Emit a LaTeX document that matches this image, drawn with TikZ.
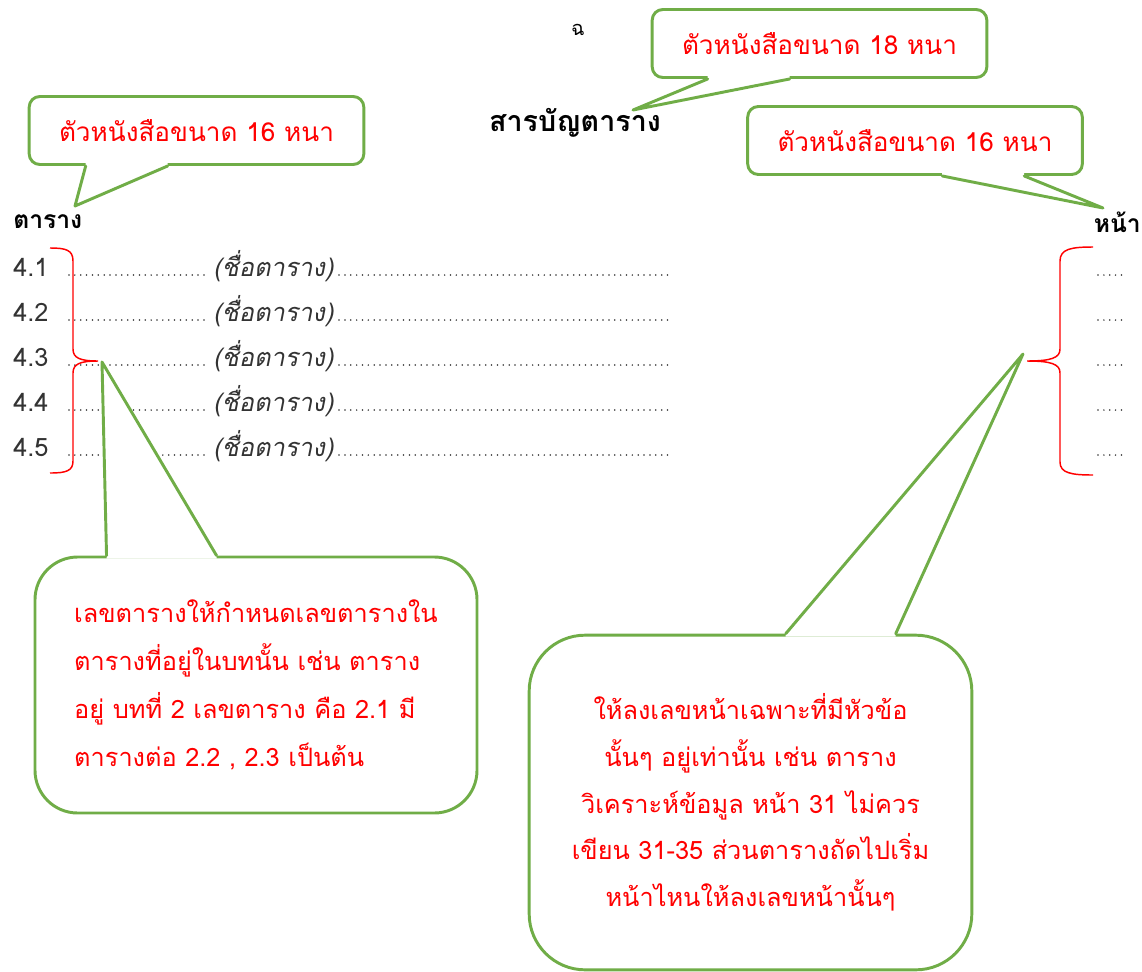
\documentclass[tikz,border=0pt]{standalone}
\usepackage{fontspec}
\setmainfont[Script=Thai]{Loma}
\newfontfamily\slantthai[Script=Thai,FakeSlant=0.2]{Loma}
\usetikzlibrary{calc}

\definecolor{calloutGreen}{RGB}{112,173,71}
\definecolor{noteRed}{RGB}{255,0,0}

\begin{document}
\begin{tikzpicture}[x=0.75pt,y=-0.75pt,
        smallCallout/.style = {draw=calloutGreen,line width=2.2pt,fill=white,rounded corners=8pt,text=noteRed,font=\fontsize{19.6}{22}\selectfont,minimum width=251pt,minimum height=51pt,inner sep=0pt},
        bigCallout/.style = {draw=calloutGreen,line width=2.2pt,fill=white,text=noteRed,inner sep=0pt},
        tailLine/.style = {draw=calloutGreen,line width=2.2pt,line join=round,line cap=round},
        headText/.style = {font=\bfseries\fontsize{18.5}{22}\selectfont,inner sep=0pt},
        rowText/.style = {font=\fontsize{19}{22}\selectfont,text=black!80,inner sep=0pt,anchor=base west},
        leader/.style = {draw=black!80,line width=1.3pt,line cap=round,dash pattern=on 0pt off 4.4pt},
        braceLine/.style = {draw=noteRed,line width=1.1pt}
        ]
        \path[use as bounding box] (0,0) rectangle (1142,971);

        % page letter, title and column heads
        \node[font=\fontsize{15}{18}\selectfont,inner sep=0pt] (pageNo) at (578,30) {ฉ};
        \node[headText,font=\bfseries\fontsize{21.5}{24}\selectfont] (title) at (575,123) {สารบัญตาราง};
        \node[headText,anchor=west] (tableHead) at (13,222) {ตาราง};
        \node[headText,anchor=east] (pageHead) at (1141,222) {หน้า};

        % rows
        \foreach \i/\y in {1/276,2/321,3/366,4/411,5/456}{
            \node[rowText] (num\i) at (13,\y) {4.\i};
            \node[rowText] (name\i) at (213,\y) {\slantthai(ชื่อตาราง)};
            \coordinate (lead\i) at (69,\y-1);
            \coordinate (end\i) at (668,\y-1);
            \coordinate (pg\i) at (1098,\y-1);
            \coordinate (pgEnd\i) at (1126,\y-1);
            \draw[leader] (lead\i) -- ([xshift=-4pt,yshift=0.75pt]name\i.base west);
            \draw[leader] ([xshift=4pt,yshift=0.75pt]name\i.base east) -- (end\i);
            \draw[leader] (pg\i) -- (pgEnd\i);
        }

        % braces
        \coordinate (braceLTop) at (50,248);
        \coordinate (braceLTip) at (98,361);
        \coordinate (braceLBot) at (50,473);
        \coordinate (braceRTop) at (1093,247);
        \coordinate (braceRTip) at (1027,361);
        \coordinate (braceRBot) at (1093,475);
        \draw[braceLine] (braceLTop) .. controls (66,248) and (73,250) .. (73,261) -- (73,349)
            .. controls (73,358) and (80,361) .. (braceLTip)
            .. controls (80,361) and (73,364) .. (73,373) -- (73,461)
            .. controls (73,471) and (66,473) .. (braceLBot);
        \draw[braceLine] (braceRTop) .. controls (1071,247) and (1060,249) .. (1060,261) -- (1060,349)
            .. controls (1060,358) and (1051,361) .. (braceRTip)
            .. controls (1051,361) and (1060,364) .. (1060,373) -- (1060,462)
            .. controls (1060,473) and (1071,475) .. (braceRBot);

        % callouts
        \node[smallCallout] (cap18) at (819.5,43.5) {ตัวหนังสือขนาด 18 หนา};
        \node[smallCallout] (capLeft) at (196.5,130.5) {ตัวหนังสือขนาด 16 หนา};
        \node[smallCallout] (capRight) at (915,140.5) {ตัวหนังสือขนาด 16 หนา};
        \node[bigCallout,rounded corners=32pt,minimum width=331.5pt,minimum height=192pt,align=left,
              font=\fontsize{19}{36}\selectfont] (noteLeft) at (256,685)
              {เลขตารางให้กำหนดเลขตารางใน\\ตารางที่อยู่ในบทนั้น เช่น ตาราง\\อยู่ บทที่ 2 เลขตาราง คือ 2.1 มี\\ตารางต่อ 2.2 , 2.3 เป็นต้น};
        \node[bigCallout,rounded corners=42pt,minimum width=332pt,minimum height=251pt,align=center,
              font=\fontsize{19}{35}\selectfont] (noteRight) at (750.5,802.5)
              {ให้ลงเลขหน้าเฉพาะที่มีหัวข้อ\\นั้นๆ อยู่เท่านั้น เช่น ตาราง\\วิเคราะห์ข้อมูล หน้า 31 ไม่ควร\\เขียน 31-35 ส่วนตารางถัดไปเริ่ม\\หน้าไหนให้ลงเลขหน้านั้นๆ};

        % tails
        \coordinate (tip18) at (633,110);
        \coordinate (tipLeft) at (75,206);
        \coordinate (tipRight) at (1103,208);
        \coordinate (tipNoteL) at (102,362);
        \coordinate (tipNoteR) at (1023,354);

        \coordinate (a1) at ($(cap18.south west)+(57,0)$);
        \coordinate (a2) at ($(cap18.south west)+(139,0)$);
        \fill[white] ($(a1)+(0,-3)$) -- (a1) -- (tip18) -- (a2) -- ($(a2)+(0,-3)$) -- cycle;
        \draw[tailLine] (a1) -- (tip18) -- (a2);

        \coordinate (b1) at ($(capLeft.south west)+(58,0)$);
        \coordinate (b2) at ($(capLeft.south west)+(140,0)$);
        \fill[white] ($(b1)+(0,-3)$) -- (b1) -- (tipLeft) -- (b2) -- ($(b2)+(0,-3)$) -- cycle;
        \draw[tailLine] (b1) -- (tipLeft) -- (b2);

        \coordinate (c1) at ($(capRight.south west)+(196,0)$);
        \coordinate (c2) at ($(capRight.south west)+(278,0)$);
        \fill[white] ($(c1)+(0,-3)$) -- (c1) -- (tipRight) -- (c2) -- ($(c2)+(0,-3)$) -- cycle;
        \draw[tailLine] (c1) -- (tipRight) -- (c2);

        \coordinate (d1) at ($(noteLeft.north west)+(73,0)$);
        \coordinate (d2) at ($(noteLeft.north west)+(183,0)$);
        \fill[white] ($(d1)+(0,3)$) -- (d1) -- (tipNoteL) -- (d2) -- ($(d2)+(0,3)$) -- cycle;
        \draw[tailLine] (d1) -- (tipNoteL) -- (d2);

        \coordinate (e1) at ($(noteRight.north west)+(258,0)$);
        \coordinate (e2) at ($(noteRight.north west)+(368,0)$);
        \fill[white] ($(e1)+(0,3)$) -- (e1) -- (tipNoteR) -- (e2) -- ($(e2)+(0,3)$) -- cycle;
        \draw[tailLine] (e1) -- (tipNoteR) -- (e2);
    \end{tikzpicture}
\end{document}
